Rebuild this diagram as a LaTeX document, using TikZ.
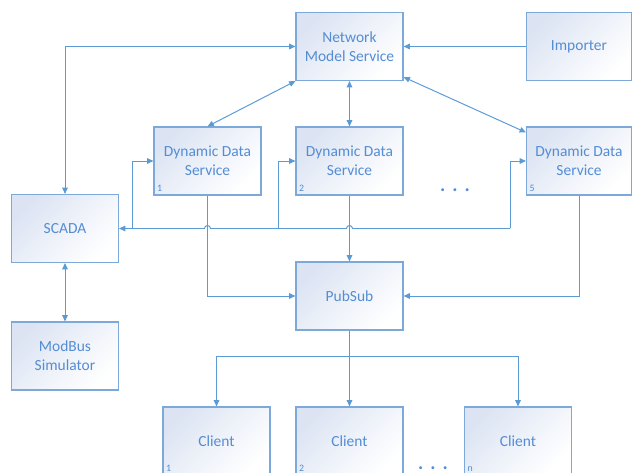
\documentclass[tikz,border=0pt]{standalone}
\usepackage{fontspec}
\setmainfont{Carlito}
\usepackage{xcolor}
\usepackage{tikz}
\usetikzlibrary{arrows.meta,calc}
\definecolor{wire}{RGB}{91,155,213}
\definecolor{boxedge}{RGB}{125,168,218}
\definecolor{boxtint}{RGB}{220,228,243}
\definecolor{inktext}{RGB}{84,141,212}

\begin{document}
\begin{tikzpicture}[x=0.025cm,y=0.025cm,>={Triangle[length=4.5pt,width=4pt]},
svc/.style={draw=boxedge,line width=0.8pt,top color=boxtint,middle color=white,bottom color=white,shading angle=45,
  minimum width=2.675cm,minimum height=1.7cm,align=center,text=inktext,font=\fontsize{11}{13.5}\selectfont},
idx/.style={anchor=south west,inner sep=2.5pt,text=inktext,font=\fontsize{7}{8}\selectfont},
link/.style={draw=wire,line width=0.7pt},
more/.style={text=inktext,font=\bfseries\fontsize{14}{14}\selectfont,inner sep=0pt}]
\useasboundingbox (0,0) rectangle (632,473);
\clip (0,0) rectangle (632,473);
% services
\node[svc] (nms) at (349.5,426.5) {Network\\Model Service};
\node[svc,minimum width=2.625cm] (imp) at (579,426.5) {Importer};
\node[svc,label={[idx]south west:1}] (dds1) at (207.5,312) {Dynamic Data\\Service};
\node[svc,label={[idx]south west:2}] (dds2) at (349.5,312) {Dynamic Data\\Service};
\node[svc,minimum width=2.625cm,label={[idx]south west:5}] (dds5) at (579,312) {Dynamic Data\\Service};
\node[more] (dotsdds) at (455,283) {.\hspace{5pt}.\hspace{5pt}.};
\node[svc] (scada) at (65,244.5) {SCADA};
\node[svc] (modbus) at (65,117) {ModBus\\Simulator};
\node[svc] (pubsub) at (349.5,177) {PubSub};
\node[svc,label={[idx]south west:1}] (cl1) at (216.5,32) {Client};
\node[svc,label={[idx]south west:2}] (cl2) at (349.5,32) {Client};
\node[svc,label={[idx]south west:n}] (cln) at (518,32) {Client};
\node[more] (dotscl) at (433,5) {.\hspace{5pt}.\hspace{5pt}.};
% model links
\draw[link,<->] (scada.north) |- (nms.west);
\draw[link,->] (imp) -- (nms);
\draw[link,<->] (nms.south west) -- (dds1.north);
\draw[link,<->] (nms) -- (dds2);
\draw[link,<->] ([yshift=0.1cm]nms.south east) -- ([yshift=-0.15cm]dds5.north west);
\draw[link,<->] (scada) -- (modbus);
% scada bus, hopping over the pubsub feeds
\coordinate (tap1) at (132,244.5);
\coordinate (tap2) at (278,244.5);
\coordinate (tap5) at (510,244.5);
\draw[link,->] (tap5) -- ($(dds2.south |- tap5)+(3,0)$) arc[start angle=0,end angle=180,radius=3]
  -- ($(dds1.south |- tap5)+(3,0)$) arc[start angle=0,end angle=180,radius=3] -- (scada.east);
\draw[link,->] (tap1) |- (dds1.west);
\draw[link,->] (tap2) |- (dds2.west);
\draw[link,->] (tap5) |- (dds5.west);
% pubsub feeds
\draw[link,->] (dds1.south) |- (pubsub.west);
\draw[link,->] (dds2) -- (pubsub);
\draw[link,->] (dds5.south) |- (pubsub.east);
\coordinate (fork) at (349.5,117);
\draw[link,->] (pubsub) -- (cl2);
\draw[link,->] (fork) -| (cl1);
\draw[link,->] (fork) -| (cln);
\end{tikzpicture}
\end{document}
